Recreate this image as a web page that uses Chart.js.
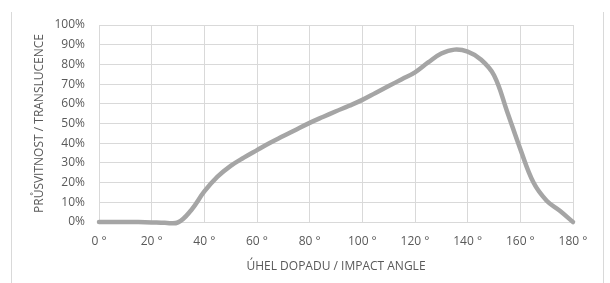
<!DOCTYPE html>
<html>
<head>
<meta charset="utf-8">
<script src="https://cdn.jsdelivr.net/npm/chart.js@4"></script>
<style>
    body { margin: 0; background: #ffffff; }
    #wrap { position: relative; width: 610px; height: 283px; overflow: hidden; }
    #frame {
        position: absolute; left: 11px; top: 12px; width: 591px; height: 290px;
        border-left: 1px solid #d9d9d9; border-right: 1px solid #d9d9d9;
    }
    #chart { position: absolute; left: 0; top: 0; }
</style>
</head>
<body>
<div id="wrap">
    <div id="frame"></div>
    <canvas id="chart" width="610" height="283"></canvas>
</div>
<script>
// Úhel dopadu (stupně)
const uhly = [0, 5, 10, 15, 20, 25, 30, 35, 40, 45, 50, 55, 60, 65, 70, 75, 80, 85, 90,
    95, 100, 105, 110, 115, 120, 125, 130, 135, 140, 145, 150, 155, 160, 165, 170, 175, 180];

// Průsvitnost (%)
const prusvitnost = [0, 0, 0, 0, -0.2, -0.4, -0.2, 6, 15.5, 23, 28.5, 32.7, 36.5, 40.2, 43.6, 47, 50.3, 53.3, 56.2,
    59, 62, 65.5, 69, 72.5, 76, 81, 85.5, 87.5, 86.5, 82.5, 74.5, 56, 37, 20, 10.8, 5.7, 0];

// Popisky os
const popisekX = 'ÚHEL DOPADU / IMPACT ANGLE';
const popisekY = 'PRŮSVITNOST / TRANSLUCENCE';

const seda = '#595959';
const mrizka = '#d9d9d9';
const pismo = { family: "'Open Sans', sans-serif", size: 12 };

const body = uhly.map((u, i) => ({ x: u, y: prusvitnost[i] / 100 }));

new Chart(document.getElementById('chart'), {
    type: 'line',
    data: {
        datasets: [{
            data: body,
            borderColor: '#a5a5a5',
            borderWidth: 4.5,
            borderCapStyle: 'round',
            pointRadius: 0,
            tension: 0.4,
            fill: false,
            clip: 6
        }]
    },
    options: {
        responsive: false,
        animation: false,
        devicePixelRatio: 1,
        layout: { padding: { left: 26, right: 37, top: 25, bottom: 0 } },
        plugins: { legend: { display: false }, tooltip: { enabled: false } },
        scales: {
            x: {
                type: 'linear',
                min: 0,
                max: 180,
                afterFit: s => { s.height = 61; },
                ticks: {
                    stepSize: 20,
                    color: seda,
                    font: pismo,
                    padding: 12,
                    maxRotation: 0,
                    callback: v => v + ' °'
                },
                grid: { color: mrizka, drawTicks: false },
                border: { color: mrizka },
                title: { display: true, text: popisekX, color: seda, font: pismo, padding: { top: 4, bottom: 9 } }
            },
            y: {
                min: 0,
                max: 1,
                afterFit: s => { s.width = 73; },
                ticks: {
                    stepSize: 0.1,
                    color: seda,
                    font: pismo,
                    padding: 14,
                    callback: v => Math.round(v * 100) + '%'
                },
                grid: { color: mrizka, drawTicks: false },
                border: { color: mrizka },
                title: { display: true, text: popisekY, color: seda, font: pismo, padding: { top: 6, bottom: 0 } }
            }
        }
    }
});
</script>
</body>
</html>
